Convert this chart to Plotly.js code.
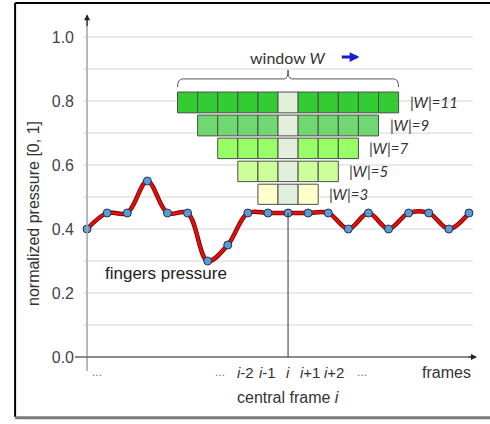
<!DOCTYPE html>
<html>
<head>
<meta charset="utf-8">
<script src="https://cdn.plot.ly/plotly-3.0.1.min.js"></script>
<style>html,body{margin:0;padding:0;background:#fff;}#chart{width:490px;height:424px;}</style>
</head>
<body>
<div id="chart"></div>
<script>
// ---- data ----
const frames = [0,1,2,3,4,5,6,7,8,9,10,11,12,13,14,15,16,17,18,19];
const pressure = [0.40,0.45,0.45,0.55,0.45,0.45,0.30,0.35,0.45,0.45,0.45,0.45,0.45,0.40,0.45,0.40,0.45,0.45,0.40,0.45];
const centralFrame = 10;
const windowSizes = [11, 9, 7, 5, 3];
const windowLabels = ['<i>|W|=11</i>', '<i>|W|=9</i>', '<i>|W|=7</i>', '<i>|W|=5</i>', '<i>|W|=3</i>'];
const rowBase = [0.763, 0.691, 0.620, 0.548, 0.477];
const rowHeight = [0.065, 0.065, 0.064, 0.064, 0.063];
const rowColors = ['#33cc33', '#70d870', '#99ff66', '#ccff99', '#ffffcc'];
const centerColor = '#e2efda';
const yTickVals = [0.0, 0.2, 0.4, 0.6, 0.8, 1.0];
const yTickText = ['0.0', '0.2', '0.4', '0.6', '0.8', '1.0'];
const gridVals = [0.1,0.2,0.3,0.4,0.5,0.6,0.7,0.8,0.9,1.0];
const xTickPos = [0.5, 6.6, 7.9, 9.0, 10.0, 11.1, 12.3, 13.7];
const xTickText = ['...', '...', '<i>i</i>-2', '<i>i</i>-1', '<i>i</i>', '<i>i</i>+1', '<i>i</i>+2', '...'];

// ---- traces ----
const traces = [];
windowSizes.forEach((w, r) => {
  const half = (w - 1) / 2;
  const xs = [];
  for (let k = centralFrame - half; k <= centralFrame + half; k++) xs.push(k);
  traces.push({
    type: 'bar', x: xs, y: xs.map(() => rowHeight[r]), base: rowBase[r], width: 1,
    marker: { color: xs.map(k => k === centralFrame ? centerColor : rowColors[r]),
              line: { color: '#4d4d4d', width: 1 } },
    hoverinfo: 'skip', showlegend: false
  });
});
traces.push({
  type: 'scatter', mode: 'lines', x: frames, y: pressure,
  line: { shape: 'spline', color: '#7a0000', width: 4.5 }, hoverinfo: 'skip', showlegend: false
});
traces.push({
  type: 'scatter', mode: 'lines+markers', x: frames, y: pressure,
  line: { shape: 'spline', color: '#dd1010', width: 2.8 },
  marker: { size: 8, color: '#5b9bd5', line: { color: '#1f3550', width: 1 } },
  hoverinfo: 'skip', showlegend: false
});

// ---- shapes ----
const shapes = [];
gridVals.forEach(v => shapes.push({ type: 'line', xref: 'x', yref: 'y', x0: -0.2, x1: 19.2, y0: v, y1: v,
  line: { color: '#e3e3e3', width: 1.6 }, layer: 'below' }));
shapes.push({ type: 'line', xref: 'x', yref: 'y', x0: 0, x1: 0, y0: -0.044, y1: 1.06, line: { color: '#a8a8a8', width: 1.6 } });
shapes.push({ type: 'line', xref: 'x', yref: 'y', x0: -0.6, x1: 19.2, y0: 0, y1: 0, line: { color: '#666', width: 1.3 } });
shapes.push({ type: 'line', xref: 'x', yref: 'y', x0: centralFrame, x1: centralFrame, y0: 0, y1: pressure[centralFrame], line: { color: '#333', width: 1 } });
const bL = centralFrame - 5.5, bR = centralFrame + 5.5;
shapes.push({ type: 'path', xref: 'x', yref: 'y',
  path: `M ${bL},0.843 Q ${bL},0.869 ${bL+0.25},0.869 L ${centralFrame-0.2},0.869 Q ${centralFrame},0.869 ${centralFrame},0.897 Q ${centralFrame},0.869 ${centralFrame+0.2},0.869 L ${bR-0.25},0.869 Q ${bR},0.869 ${bR},0.843`,
  line: { color: '#555', width: 1 } });
shapes.push({ type: 'line', xref: 'paper', yref: 'paper', x0: -0.149, x1: -0.149, y0: -0.129, y1: 1.031, line: { color: '#000', width: 2 } });
shapes.push({ type: 'line', xref: 'paper', yref: 'paper', x0: -0.149, x1: 1.04, y0: 1.031, y1: 1.031, line: { color: '#000', width: 2 } });
shapes.push({ type: 'line', xref: 'paper', yref: 'paper', x0: -0.149, x1: 1.04, y0: -0.131, y1: -0.131, line: { color: '#7a7a7a', width: 3 } });

// ---- annotations ----
const base = { family: 'Liberation Sans, Arial, sans-serif', color: '#333' };
const ann = [];
xTickPos.forEach((x, i) => ann.push({ xref: 'x', yref: 'paper', x: x, y: -0.003, text: xTickText[i], showarrow: false,
  xanchor: 'center', yanchor: 'middle',
  font: Object.assign({}, base, { size: xTickText[i] === '...' ? 12 : 15, color: xTickText[i] === '...' ? '#777' : '#333' }) }));
ann.push({ xref: 'x', yref: 'paper', x: 17.9, y: -0.003, text: 'frames', showarrow: false, xanchor: 'center', yanchor: 'middle',
  font: Object.assign({}, base, { size: 16 }) });
ann.push({ xref: 'x', yref: 'paper', x: centralFrame, y: -0.073, text: 'central frame <i>i</i>', showarrow: false, xanchor: 'center', yanchor: 'middle',
  font: Object.assign({}, base, { size: 16 }) });
ann.push({ xref: 'paper', yref: 'y', x: -0.1045, y: 0.45, text: 'normalized pressure [0, 1]', textangle: -90, showarrow: false,
  xanchor: 'center', yanchor: 'middle', font: Object.assign({}, base, { size: 16 }) });
ann.push({ xref: 'x', yref: 'y', x: 3.93, y: 0.26, text: 'fingers pressure', showarrow: false, xanchor: 'center', yanchor: 'middle',
  font: Object.assign({}, base, { size: 17, color: '#222' }) });
windowSizes.forEach((w, r) => ann.push({ xref: 'x', yref: 'y', x: centralFrame + (w - 1) / 2 + 0.95, y: rowBase[r] + rowHeight[r] / 2,
  text: windowLabels[r], showarrow: false, xanchor: 'left', yanchor: 'middle',
  font: { family: 'Lato, Open Sans, sans-serif', size: 15, color: '#333' } }));
ann.push({ xref: 'x', yref: 'y', x: centralFrame, y: 0.9375, text: 'window <i>W</i>', showarrow: false, xanchor: 'center', yanchor: 'middle',
  font: { family: 'Lato, Open Sans, sans-serif', size: 16, color: '#333' } });
ann.push({ xref: 'x', yref: 'y', axref: 'x', ayref: 'y', x: 13.55, y: 0.9375, ax: 12.6, ay: 0.9375, text: '', showarrow: true,
  arrowhead: 2, arrowsize: 0.65, arrowwidth: 3, arrowcolor: '#1a1ad0' });
ann.push({ xref: 'x', yref: 'y', axref: 'x', ayref: 'y', x: 0, y: 1.071, ax: 0, ay: 1.03, text: '', showarrow: true,
  arrowhead: 2, arrowsize: 1, arrowwidth: 1.2, arrowcolor: '#222' });
ann.push({ xref: 'x', yref: 'y', axref: 'x', ayref: 'y', x: 19.4, y: 0, ax: 18.9, ay: 0, text: '', showarrow: true,
  arrowhead: 2, arrowsize: 1, arrowwidth: 1.2, arrowcolor: '#222' });

const layout = {
  width: 490, height: 424,
  margin: { l: 75, r: 13, t: 14, b: 53, pad: 0 },
  paper_bgcolor: '#fff', plot_bgcolor: '#fff',
  barmode: 'overlay', bargap: 0,
  xaxis: { range: [-0.6, 19.4], showgrid: false, zeroline: false, showline: false, showticklabels: false, ticks: '', fixedrange: true },
  yaxis: { range: [-0.04375, 1.071875], tickvals: yTickVals, ticktext: yTickText, showgrid: false, zeroline: false,
           showline: false, ticks: '', tickfont: Object.assign({}, base, { size: 16, color: '#444' }), fixedrange: true },
  shapes: shapes, annotations: ann, showlegend: false
};
Plotly.newPlot('chart', traces, layout, { staticPlot: true, displayModeBar: false });
</script>
</body>
</html>
